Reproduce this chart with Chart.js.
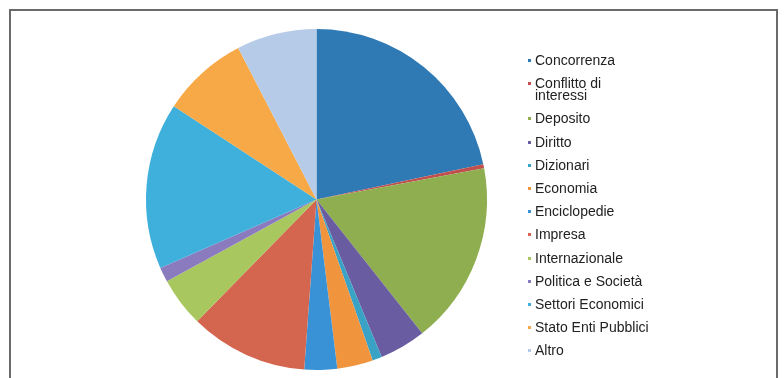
<!DOCTYPE html>
<html>
<head>
<meta charset="utf-8">
<script src="https://cdn.jsdelivr.net/npm/chart.js@4"></script>
<style>
  html, body { margin: 0; padding: 0; background: #fff; }
  body { width: 784px; height: 378px; position: relative; overflow: hidden; }
  #frame { position: absolute; left: 9px; top: 9px; width: 769px; height: 420px; border: 2px solid #6a6a6a; box-sizing: border-box; }
  #wrap { position: absolute; left: 0; top: 0; width: 784px; height: 378px; }
  #legend { position: absolute; left: 528px; top: 54px; font-family: "Liberation Sans", Arial, sans-serif; font-size: 14px; color: #222; }
  .item { display: flex; align-items: flex-start; line-height: 12px; margin-bottom: 11.2px; }
  .mk { width: 3px; height: 3px; margin-top: 5px; margin-right: 4px; flex: none; }
</style>
</head>
<body>
<div id="frame"></div>
<div id="wrap"><canvas id="c" width="784" height="378"></canvas></div>
<div id="legend"></div>
<script>
const categories = ["Concorrenza", "Conflitto di\ninteressi", "Deposito", "Diritto", "Dizionari", "Economia", "Enciclopedie", "Impresa", "Internazionale", "Politica e Società", "Settori Economici", "Stato Enti Pubblici", "Altro"];
const values = [21.7, 0.4, 17.3, 4.4, 0.9, 3.4, 3.1, 11.2, 4.7, 1.4, 15.8, 8.2, 7.6];
const colors = ["#2f7ab5", "#c0504d", "#8fae50", "#6a5ca0", "#3aa3c5", "#f0953e", "#3a92d6", "#d4654f", "#a9c75f", "#8a7bbf", "#3fb0dc", "#f7a947", "#b6cbe8"];

new Chart(document.getElementById('c'), {
  type: 'pie',
  data: {
    labels: categories,
    datasets: [{ data: values, backgroundColor: colors, borderWidth: 0 }]
  },
  options: {
    responsive: false,
    animation: false,
    layout: { padding: { left: 146, right: 297, top: 29, bottom: 8 } },
    plugins: { legend: { display: false }, tooltip: { enabled: false } }
  }
});

const leg = document.getElementById('legend');
categories.forEach((c, i) => {
  const it = document.createElement('div');
  it.className = 'item';
  const mk = document.createElement('span');
  mk.className = 'mk';
  mk.style.background = colors[i];
  const tx = document.createElement('span');
  tx.innerHTML = c.replace('\n', '<br>');
  it.appendChild(mk); it.appendChild(tx);
  leg.appendChild(it);
});
</script>
</body>
</html>
